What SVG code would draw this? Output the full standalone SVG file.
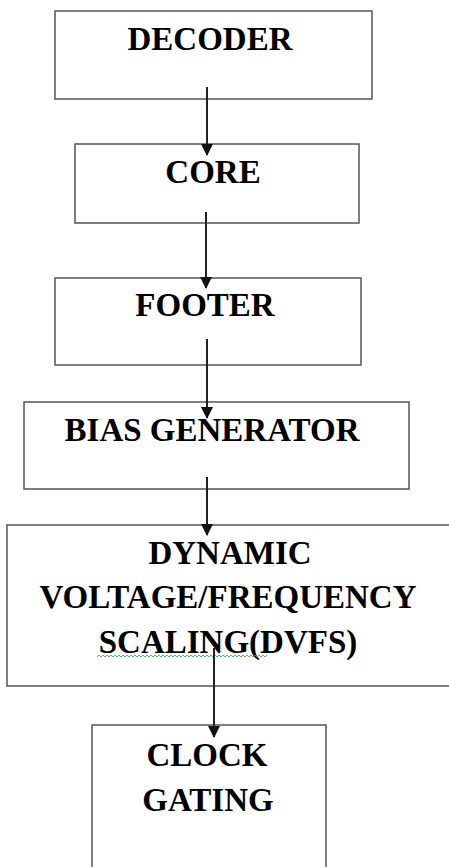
<svg xmlns="http://www.w3.org/2000/svg" width="449" height="867" viewBox="0 0 449 867">
<style>
.box{fill:#fff;stroke:#555;stroke-width:1.5}
.t{font-family:"Liberation Serif","Times New Roman",serif;font-weight:bold;font-size:33px;fill:#000;text-anchor:middle}
.c{stroke:#222;stroke-width:2;fill:none}
</style>
<defs>
<marker id="ah" markerWidth="12" markerHeight="12" refX="11" refY="6" orient="auto" markerUnits="userSpaceOnUse" viewBox="0 0 12 12">
<path d="M0,0 L12,6 L0,12 Z" fill="#111"/>
</marker>
</defs>
<rect width="449" height="867" fill="#fff"/>
<g id="decoder"><rect class="box" x="55" y="11" width="317" height="88"/><text class="t" x="210" y="50">DECODER</text></g>
<g id="core"><rect class="box" x="75" y="144" width="284" height="79"/><text class="t" x="213" y="183">CORE</text></g>
<g id="footer"><rect class="box" x="55" y="278" width="306" height="87"/><text class="t" x="205" y="316">FOOTER</text></g>
<g id="bias"><rect class="box" x="24" y="402" width="385" height="87"/><text class="t" x="212" y="441">BIAS GENERATOR</text></g>
<g id="dvfs"><rect class="box" x="7" y="525" width="460" height="161"/>
<text class="t" x="230" y="564">DYNAMIC</text>
<text class="t" x="228" y="608">VOLTAGE/FREQUENCY</text>
<text class="t" x="228" y="653">SCALING(DVFS)</text>
<path d="M97,657 l2,-2 l2,2 l2,-2 l2,2 l2,-2 l2,2 l2,-2 l2,2 l2,-2 l2,2 l2,-2 l2,2 l2,-2 l2,2 l2,-2 l2,2 l2,-2 l2,2 l2,-2 l2,2 l2,-2 l2,2 l2,-2 l2,2 l2,-2 l2,2 l2,-2 l2,2 l2,-2 l2,2 l2,-2 l2,2 l2,-2 l2,2 l2,-2 l2,2 l2,-2 l2,2 l2,-2 l2,2 l2,-2 l2,2 l2,-2 l2,2 l2,-2 l2,2 l2,-2 l2,2 l2,-2 l2,2 l2,-2 l2,2 l2,-2 l2,2 l2,-2 l2,2 l2,-2 l2,2 l2,-2 l2,2 l2,-2 l2,2 l2,-2 l2,2 l2,-2 l2,2 l2,-2 l2,2 l2,-2 l2,2 l2,-2 l2,2 l2,-2 l2,2 l2,-2 l2,2 l2,-2 l2,2 l2,-2 l2,2 l2,-2 l2,2 l2,-2 l2,2 l2,-2" fill="none" stroke="#3a3" stroke-width="0.8"/>
</g>
<g id="clock"><rect class="box" x="92" y="725" width="234" height="160"/>
<text class="t" x="207" y="766">CLOCK</text>
<text class="t" x="208" y="811">GATING</text></g>
<g id="connectors">
<line class="c" x1="207" y1="87" x2="207" y2="155" marker-end="url(#ah)"/>
<line class="c" x1="206" y1="212" x2="206" y2="288" marker-end="url(#ah)"/>
<line class="c" x1="207" y1="339" x2="207" y2="418" marker-end="url(#ah)"/>
<line class="c" x1="207" y1="477" x2="207" y2="535" marker-end="url(#ah)"/>
<line class="c" x1="214" y1="648" x2="214" y2="737" marker-end="url(#ah)"/>
</g>
</svg>
